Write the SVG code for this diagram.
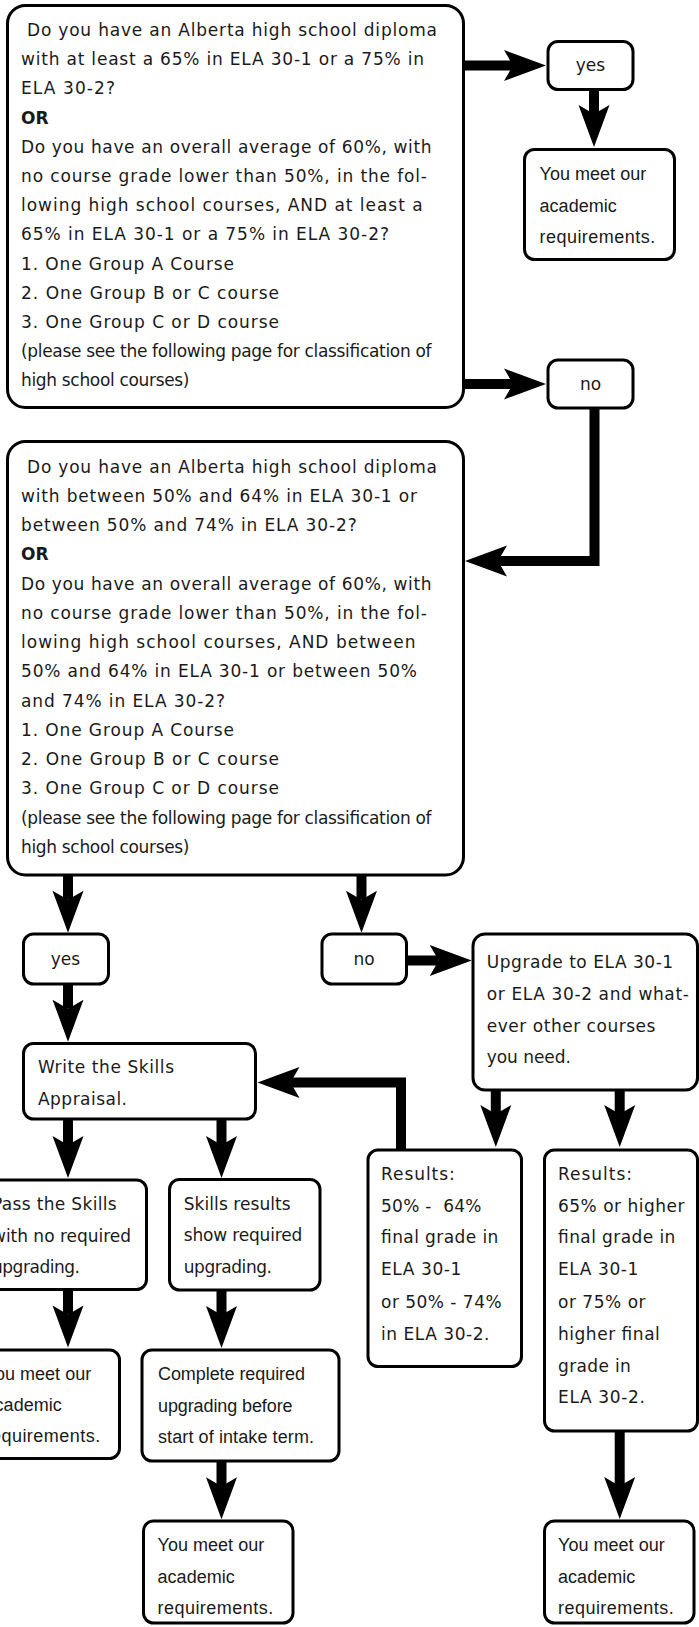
<svg xmlns="http://www.w3.org/2000/svg" width="699" height="1627" viewBox="0 0 699 1627">
<style>
.b{fill:#fff;stroke:#000;stroke-width:3}
.t{font-family:"DejaVu Sans","Liberation Sans",sans-serif;font-size:17px;fill:#1a1a1a}
.n{font-family:"Liberation Sans",Arial,sans-serif;font-size:18px;fill:#1a1a1a}
.m{text-anchor:middle}
.bd{font-weight:bold}
.c{fill:none;stroke:#000;stroke-width:10;stroke-linejoin:miter;marker-end:url(#ah)}
</style>
<defs>
<marker id="ah" markerUnits="userSpaceOnUse" markerWidth="42" markerHeight="31" viewBox="0 -15.5 42 31" refX="9" refY="0" orient="auto" overflow="visible">
<path d="M42,0 L0,-15.5 L9,0 L0,15.5 Z" fill="#000"/>
</marker>
</defs>

<g id="q1">
<rect class="b" x="7.5" y="5.5" width="456" height="402" rx="18"/>
<text class="t" x="27" y="36" textLength="410" lengthAdjust="spacing">Do you have an Alberta high school diploma</text>
<text class="t" x="21" y="65.2" textLength="403" lengthAdjust="spacing">with at least a 65% in ELA 30-1 or a 75% in</text>
<text class="t" x="21" y="94.4" textLength="94" lengthAdjust="spacing">ELA 30-2?</text>
<text class="t bd" x="21" y="123.6">OR</text>
<text class="t" x="21" y="152.8" textLength="410.5" lengthAdjust="spacing">Do you have an overall average of 60%, with</text>
<text class="t" x="21" y="182" textLength="406" lengthAdjust="spacing">no course grade lower than 50%, in the fol-</text>
<text class="t" x="21" y="211.2" textLength="401.6" lengthAdjust="spacing">lowing high school courses, AND at least a</text>
<text class="t" x="21" y="240.4" textLength="368" lengthAdjust="spacing">65% in ELA 30-1 or a 75% in ELA 30-2?</text>
<text class="t" x="21" y="269.6" textLength="213" lengthAdjust="spacing">1. One Group A Course</text>
<text class="t" x="21" y="298.8" textLength="258" lengthAdjust="spacing">2. One Group B or C course</text>
<text class="t" x="21" y="328" textLength="258" lengthAdjust="spacing">3. One Group C or D course</text>
<text class="t" x="21" y="357.2" textLength="410.5" lengthAdjust="spacing">(please see the following page for classification of</text>
<text class="t" x="21" y="386.4" textLength="168.5" lengthAdjust="spacing">high school courses)</text>
</g>

<g id="yes1">
<rect class="b" x="548" y="41.5" width="85" height="48" rx="10"/>
<text class="t m" x="590.5" y="70.7">yes</text>
</g>

<g id="meet1">
<rect class="b" x="524.5" y="149.5" width="150" height="110" rx="10"/>
<text class="n" x="539.5" y="180" textLength="106.7" lengthAdjust="spacing">You meet our</text>
<text class="n" x="539.5" y="211.5" textLength="77.3" lengthAdjust="spacing">academic</text>
<text class="n" x="539.5" y="243" textLength="115.7" lengthAdjust="spacing">requirements.</text>
</g>

<g id="no1">
<rect class="b" x="548" y="360" width="85" height="48" rx="10"/>
<text class="t m" x="590.5" y="390">no</text>
</g>

<g id="q2">
<rect class="b" x="7.5" y="441.5" width="456" height="433.5" rx="18"/>
<text class="t" x="27" y="472.7" textLength="410" lengthAdjust="spacing">Do you have an Alberta high school diploma</text>
<text class="t" x="21" y="502" textLength="396" lengthAdjust="spacing">with between 50% and 64% in ELA 30-1 or</text>
<text class="t" x="21" y="531.2" textLength="335.7" lengthAdjust="spacing">between 50% and 74% in ELA 30-2?</text>
<text class="t bd" x="21" y="560.4">OR</text>
<text class="t" x="21" y="589.7" textLength="410.5" lengthAdjust="spacing">Do you have an overall average of 60%, with</text>
<text class="t" x="21" y="619" textLength="406" lengthAdjust="spacing">no course grade lower than 50%, in the fol-</text>
<text class="t" x="21" y="648.2" textLength="394.5" lengthAdjust="spacing">lowing high school courses, AND between</text>
<text class="t" x="21" y="677.4" textLength="396" lengthAdjust="spacing">50% and 64% in ELA 30-1 or between 50%</text>
<text class="t" x="21" y="706.7" textLength="204" lengthAdjust="spacing">and 74% in ELA 30-2?</text>
<text class="t" x="21" y="736" textLength="213" lengthAdjust="spacing">1. One Group A Course</text>
<text class="t" x="21" y="765.2" textLength="258" lengthAdjust="spacing">2. One Group B or C course</text>
<text class="t" x="21" y="794.4" textLength="258" lengthAdjust="spacing">3. One Group C or D course</text>
<text class="t" x="21" y="823.7" textLength="410.5" lengthAdjust="spacing">(please see the following page for classification of</text>
<text class="t" x="21" y="853" textLength="168.5" lengthAdjust="spacing">high school courses)</text>
</g>

<g id="yes2">
<rect class="b" x="23.5" y="934" width="85" height="50" rx="10"/>
<text class="t m" x="65.5" y="965">yes</text>
</g>

<g id="no2">
<rect class="b" x="322" y="934" width="84.5" height="50" rx="10"/>
<text class="t m" x="364" y="965">no</text>
</g>

<g id="upgrade">
<rect class="b" x="473" y="934" width="224.5" height="156" rx="12"/>
<text class="t" x="486.8" y="968.3" textLength="186.4" lengthAdjust="spacing">Upgrade to ELA 30-1</text>
<text class="t" x="486.8" y="1000" textLength="202" lengthAdjust="spacing">or ELA 30-2 and what-</text>
<text class="t" x="486.8" y="1031.7" textLength="168.6" lengthAdjust="spacing">ever other courses</text>
<text class="t" x="486.8" y="1063.3" textLength="84" lengthAdjust="spacing">you need.</text>
</g>

<g id="write">
<rect class="b" x="23.5" y="1043.5" width="232" height="75.5" rx="10"/>
<text class="t" x="38" y="1073" textLength="136" lengthAdjust="spacing">Write the Skills</text>
<text class="t" x="38" y="1105" textLength="89" lengthAdjust="spacing">Appraisal.</text>
</g>

<g id="pass">
<rect class="b" x="-22" y="1180" width="168.5" height="109.5" rx="10"/>
<text class="t" x="-8" y="1210" textLength="124.7" lengthAdjust="spacing">Pass the Skills</text>
<text class="t" x="-8" y="1241.7" textLength="139" lengthAdjust="spacing">with no required</text>
<text class="t" x="-8" y="1273" textLength="88" lengthAdjust="spacing">upgrading.</text>
</g>

<g id="skills">
<rect class="b" x="169.5" y="1179.5" width="150.5" height="110.5" rx="10"/>
<text class="t" x="183.7" y="1209.5" textLength="107" lengthAdjust="spacing">Skills results</text>
<text class="t" x="183.7" y="1241" textLength="118.6" lengthAdjust="spacing">show required</text>
<text class="t" x="183.7" y="1272.5" textLength="88.3" lengthAdjust="spacing">upgrading.</text>
</g>

<g id="results1">
<rect class="b" x="368" y="1150" width="153.5" height="216.5" rx="10"/>
<text class="t" x="381" y="1180" textLength="73.7" lengthAdjust="spacing">Results:</text>
<text class="t" x="381" y="1211.7" textLength="100.5" lengthAdjust="spacing" xml:space="preserve">50% -  64%</text>
<text class="t" x="381" y="1243.3" textLength="117.4" lengthAdjust="spacing">final grade in</text>
<text class="t" x="381" y="1275" textLength="80.4" lengthAdjust="spacing">ELA 30-1</text>
<text class="t" x="381" y="1307.5" textLength="120.6" lengthAdjust="spacing">or 50% - 74%</text>
<text class="t" x="381" y="1339.5" textLength="108.5" lengthAdjust="spacing">in ELA 30-2.</text>
</g>

<g id="results2">
<rect class="b" x="544.5" y="1150" width="153" height="281" rx="10"/>
<text class="t" x="558" y="1180" textLength="74" lengthAdjust="spacing">Results:</text>
<text class="t" x="558" y="1211.7" textLength="126.4" lengthAdjust="spacing">65% or higher</text>
<text class="t" x="558" y="1243.3" textLength="117.4" lengthAdjust="spacing">final grade in</text>
<text class="t" x="558" y="1275" textLength="80.4" lengthAdjust="spacing">ELA 30-1</text>
<text class="t" x="558" y="1307.5" textLength="87.6" lengthAdjust="spacing">or 75% or</text>
<text class="t" x="558" y="1339.5" textLength="101.8" lengthAdjust="spacing">higher final</text>
<text class="t" x="558" y="1371.5" textLength="72.8" lengthAdjust="spacing">grade in</text>
<text class="t" x="558" y="1403.3" textLength="87" lengthAdjust="spacing">ELA 30-2.</text>
</g>

<g id="meet2">
<rect class="b" x="-31" y="1350" width="150.5" height="108.5" rx="10"/>
<text class="n" x="-15.5" y="1380" textLength="106.7" lengthAdjust="spacing">You meet our</text>
<text class="n" x="-15.5" y="1411" textLength="77.3" lengthAdjust="spacing">academic</text>
<text class="n" x="-15.5" y="1442" textLength="115.7" lengthAdjust="spacing">requirements.</text>
</g>

<g id="complete">
<rect class="b" x="142" y="1350" width="197" height="111" rx="10"/>
<text class="n" x="158" y="1380" textLength="147" lengthAdjust="spacing">Complete required</text>
<text class="n" x="158" y="1411.7" textLength="134.6" lengthAdjust="spacing">upgrading before</text>
<text class="n" x="158" y="1443.3" textLength="156" lengthAdjust="spacing">start of intake term.</text>
</g>

<g id="meet3">
<rect class="b" x="143.5" y="1521" width="149.5" height="102" rx="10"/>
<text class="n" x="157.5" y="1551" textLength="106.7" lengthAdjust="spacing">You meet our</text>
<text class="n" x="157.5" y="1582.5" textLength="77.3" lengthAdjust="spacing">academic</text>
<text class="n" x="157.5" y="1614" textLength="115.7" lengthAdjust="spacing">requirements.</text>
</g>

<g id="meet4">
<rect class="b" x="544.5" y="1521" width="149.5" height="102" rx="10"/>
<text class="n" x="558" y="1551" textLength="106.7" lengthAdjust="spacing">You meet our</text>
<text class="n" x="558" y="1582.5" textLength="77.3" lengthAdjust="spacing">academic</text>
<text class="n" x="558" y="1614" textLength="115.7" lengthAdjust="spacing">requirements.</text>
</g>

<g id="connectors">
<path class="c" d="M464,65.5 H513"/>
<path class="c" d="M464,384 H513"/>
<path class="c" d="M594,89 V114"/>
<path class="c" d="M594.5,408 V561 H498"/>
<path class="c" d="M68,875 V899.7"/>
<path class="c" d="M361.5,875 V899.7"/>
<path class="c" d="M406.5,960.5 H438.7"/>
<path class="c" d="M68,984 V1008.7"/>
<path class="c" d="M401,1150 V1082.5 H290.5"/>
<path class="c" d="M68,1119 V1145"/>
<path class="c" d="M221.5,1119 V1145"/>
<path class="c" d="M495.8,1090 V1114"/>
<path class="c" d="M619.7,1090 V1114"/>
<path class="c" d="M68,1289.5 V1314.5"/>
<path class="c" d="M221.5,1290 V1315"/>
<path class="c" d="M221.5,1461 V1486.3"/>
<path class="c" d="M619.7,1431 V1486"/>
</g>
</svg>
